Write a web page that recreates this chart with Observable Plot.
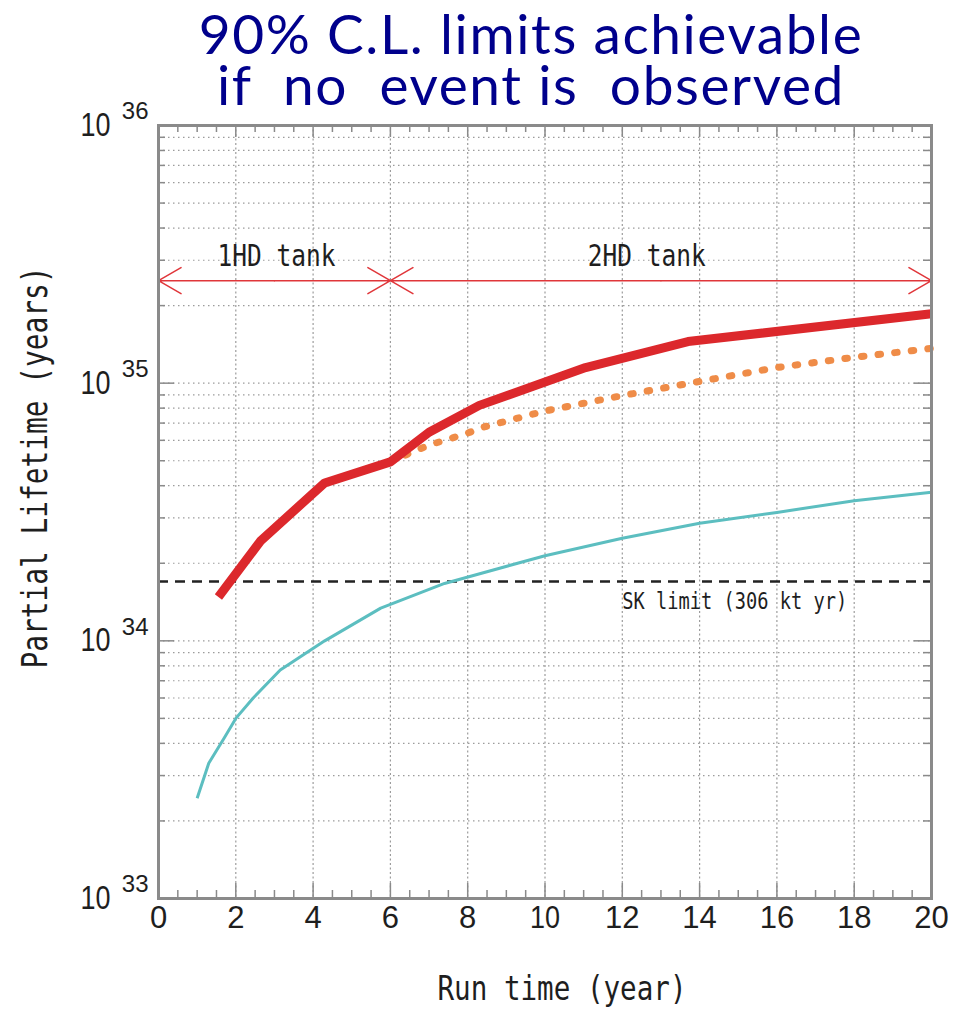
<!DOCTYPE html>
<html>
<head>
<meta charset="utf-8">
<script src="https://cdn.jsdelivr.net/npm/d3@7"></script>
<script src="https://cdn.jsdelivr.net/npm/@observablehq/plot@0.6"></script>
<style>
  body { margin: 0; background: #fff; }
  #wrap { position: relative; width: 958px; height: 1010px; overflow: hidden; }
  .title { position: absolute; left: 104px; width: 854px; text-align: center;
           font-family: Lato, "Open Sans", sans-serif; font-size: 55px; line-height: 40px;
           letter-spacing: 1.6px; color: #00008c; white-space: pre; z-index: 2; }
  #t1 { top: 13px; }
  #t2 { top: 64px; }
  #chart { position: absolute; left: 0; top: 0; }
</style>
</head>
<body>
<div id="wrap">
  <div class="title" id="t1">90% C.L. limits achievable</div>
  <div class="title" id="t2">if  no  event is  observed</div>
  <div id="chart"></div>
</div>
<script>
// ---- data ----
const redX = [1.55, 2.65, 4.3, 6.0, 7.0, 8.3, 11.05, 13.7, 20];
const redY = [1.48e34, 2.45e34, 4.1e34, 4.95e34, 6.45e34, 8.2e34, 1.15e35, 1.45e35, 1.86e35];

const orangeX = [6.0, 6.5, 7.0, 8.0, 8.4, 10.0, 12.0, 13.75, 16.0, 18.0, 20.1];
const orangeY = [4.95e34, 5.35e34, 5.75e34, 6.4e34, 6.75e34, 7.8e34, 8.95e34, 1.0e35, 1.15e35, 1.26e35, 1.37e35];

const cyanX = [1.0, 1.3, 1.7, 2.0, 2.45, 3.15, 4.3, 5.75, 7.4, 10, 12, 14, 16, 18, 20];
const cyanY = [2.45e33, 3.35e33, 4.2e33, 5.0e33, 6.0e33, 7.7e33, 1.0e34, 1.34e34, 1.67e34, 2.14e34, 2.5e34, 2.86e34, 3.15e34, 3.5e34, 3.77e34];

const skLimit = 1.7e34;
const skLabel = "SK limit (306 kt yr)";
const skLabelPos = [12.0, 1.325e34];

const tankSpans = [[0, 6], [6, 20]];
const tankLabels = ["1HD tank", "2HD tank"];
const tankLabelX = [3.05, 12.63];
const tankArrowY = 2.5e35;
const tankLabelY = 2.86e35;

const xTicks = [0, 2, 4, 6, 8, 10, 12, 14, 16, 18, 20];
const xGrid = [2, 4, 6, 8, 10, 12, 14, 16, 18];
const xMinor = [0.5, 1, 1.5, 2.5, 3, 3.5, 4.5, 5, 5.5, 6.5, 7, 7.5, 8.5, 9, 9.5,
                10.5, 11, 11.5, 12.5, 13, 13.5, 14.5, 15, 15.5, 16.5, 17, 17.5, 18.5, 19, 19.5];
const yMajor = [1e33, 1e34, 1e35, 1e36];
const yExp = ["33", "34", "35", "36"];
const yGrid = [2e33, 3e33, 4e33, 5e33, 6e33, 7e33, 8e33, 9e33, 1e34,
               2e34, 3e34, 4e34, 5e34, 6e34, 7e34, 8e34, 9e34, 1e35,
               2e35, 3e35, 4e35, 5e35, 6e35, 7e35, 8e35, 9e35];
const yMinor = [2e33, 3e33, 4e33, 5e33, 6e33, 7e33, 8e33, 9e33,
                2e34, 3e34, 4e34, 5e34, 6e34, 7e34, 8e34, 9e34,
                2e35, 3e35, 4e35, 5e35, 6e35, 7e35, 8e35, 9e35];
const yInnerMajor = [1e34, 1e35];

const xTitle = "Run time (year)";
const yTitle = "Partial Lifetime (years)";
const xTitleX = 10.44;
const yTitleY = 4.71e34;

// ---- tables ----
const red = redX.map((x, i) => ({x, y: redY[i]}));
const orange = orangeX.map((x, i) => ({x, y: orangeY[i]}));
const cyan = cyanX.map((x, i) => ({x, y: cyanY[i]}));
const arrows = [];
tankSpans.forEach(([a, b]) => {
  const m = (a + b) / 2;
  arrows.push({x1: m, x2: a}, {x1: m, x2: b});
});
const tanks = tankLabels.map((t, i) => ({t, x: tankLabelX[i]}));

const W = 958, H = 1010, mL = 158, mR = 27, mT = 125, mB = 112;
const innerH = H - mT - mB, innerW = W - mL - mR;
const gridColor = "#9c9c9c", frameColor = "#8a8a8a", ink = "#1e1e1e";
const mono = "DejaVu Sans Mono, Liberation Mono, monospace";
const sans = "Liberation Sans, Arial, sans-serif";

const chart = Plot.plot({
  width: W, height: H,
  marginLeft: mL, marginRight: mR, marginTop: mT, marginBottom: mB,
  x: {domain: [0, 20], axis: null},
  y: {type: "log", domain: [1e33, 1e36], axis: null},
  style: {background: "transparent", overflow: "visible"},
  marks: [
    // grid
    Plot.ruleY(yGrid, {y: d => d, stroke: gridColor, strokeWidth: 1.2, strokeDasharray: "1.5,3.5"}),
    Plot.ruleX(xGrid, {x: d => d, stroke: gridColor, strokeWidth: 1.2, strokeDasharray: "2,2.5"}),
    // inner ticks: bottom & top
    Plot.ruleX(xMinor, {x: d => d, insetTop: innerH - 8, stroke: frameColor, strokeWidth: 1.5}),
    Plot.ruleX(xGrid, {x: d => d, insetTop: innerH - 15, stroke: frameColor, strokeWidth: 1.5}),
    Plot.ruleX(xMinor, {x: d => d, insetBottom: innerH - 7, stroke: frameColor, strokeWidth: 1.5}),
    Plot.ruleX(xGrid, {x: d => d, insetBottom: innerH - 12, stroke: frameColor, strokeWidth: 1.5}),
    // inner ticks: left & right
    Plot.ruleY(yMinor, {y: d => d, insetRight: innerW - 7, stroke: frameColor, strokeWidth: 1.5}),
    Plot.ruleY(yInnerMajor, {y: d => d, insetRight: innerW - 16, stroke: frameColor, strokeWidth: 1.5}),
    Plot.ruleY(yMinor, {y: d => d, insetLeft: innerW - 8, stroke: frameColor, strokeWidth: 1.5}),
    Plot.ruleY(yInnerMajor, {y: d => d, insetLeft: innerW - 17, stroke: frameColor, strokeWidth: 1.5}),
    // SK limit
    Plot.ruleY([skLimit], {y: d => d, x1: 0, x2: 20, stroke: "#222", strokeWidth: 2.5, strokeDasharray: "10,7"}),
    // curves
    Plot.line(cyan, {x: "x", y: "y", stroke: "#5cbec0", strokeWidth: 3, strokeLinecap: "butt"}),
    Plot.line(orange, {x: "x", y: "y", stroke: "#ef8c48", strokeWidth: 7, strokeDasharray: "2.5,14.2", strokeLinecap: "round"}),
    Plot.line(red, {x: "x", y: "y", stroke: "#dc282c", strokeWidth: 9, strokeLinecap: "butt", strokeLinejoin: "miter"}),
    // tank arrows
    Plot.arrow(arrows, {x1: "x1", x2: "x2", y1: () => tankArrowY, y2: () => tankArrowY,
      stroke: "#e0363a", strokeWidth: 1.5, headAngle: 60, headLength: 26}),
    Plot.text(tanks, {x: "x", y: () => tankLabelY, text: "t", fontFamily: mono, fontSize: 30,
      fill: ink, lineAnchor: "bottom", textAnchor: "middle"}),
    Plot.text([skLabel], {x: () => skLabelPos[0], y: () => skLabelPos[1], text: d => d, fontFamily: mono,
      fontSize: 23, fill: ink, lineAnchor: "bottom", textAnchor: "start"}),
    // frame
    Plot.frame({stroke: frameColor, strokeWidth: 3}),
    // x tick labels
    Plot.text(xTicks, {x: d => d, frameAnchor: "bottom", dy: 29, text: d => String(d),
      fontFamily: sans, fontSize: 31, fill: ink}),
    // y tick labels: 10^n
    Plot.text(yMajor, {y: d => d, frameAnchor: "left", dx: -48, text: () => "10",
      textAnchor: "end", fontFamily: sans, fontSize: 33, fill: ink}),
    Plot.text(yMajor, {y: d => d, frameAnchor: "left", dx: -10, dy: -14, text: (d, i) => yExp[i],
      textAnchor: "end", fontFamily: sans, fontSize: 24, fill: ink}),
    // axis titles
    Plot.text([xTitle], {x: () => xTitleX, frameAnchor: "bottom", dy: 101, text: d => d, lineAnchor: "bottom",
      fontFamily: mono, fontSize: 33, fill: ink}),
    Plot.text([yTitle], {y: () => yTitleY, frameAnchor: "left", dx: -123, text: d => d, rotate: -90,
      textAnchor: "middle", fontFamily: mono, fontSize: 35, fill: ink})
  ]
});
document.getElementById("chart").appendChild(chart);

// condense the narrow Japanese-gothic style labels to the reference widths
const widths = {"1HD tank": 118, "2HD tank": 118, "SK limit (306 kt yr)": 225,
                "Run time (year)": 249, "Partial Lifetime (years)": 402, "10": 30};
chart.querySelectorAll("text").forEach(t => {
  const w = widths[t.textContent];
  if (w) { t.setAttribute("textLength", w); t.setAttribute("lengthAdjust", "spacingAndGlyphs"); }
});
</script>
</body>
</html>
